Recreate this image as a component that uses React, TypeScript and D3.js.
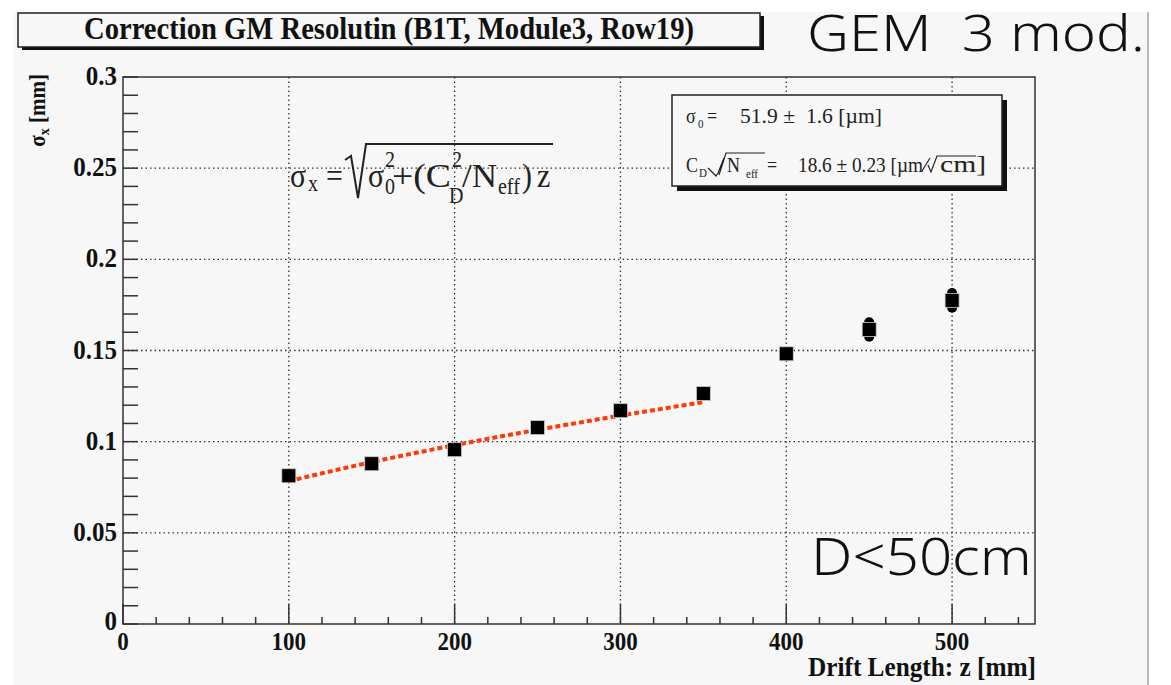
import React from "react";
import * as d3 from "d3";

// measured points: drift length z [mm] vs sigma_x [mm]
const zValues = [100, 150, 200, 250, 300, 350, 400, 450, 500];
const sigmaValues = [0.0813, 0.0879, 0.0956, 0.1077, 0.117, 0.1264, 0.1482, 0.1615, 0.1775];
const sigmaErrors = [0.001, 0.001, 0.001, 0.001, 0.001, 0.001, 0.001, 0.004, 0.004];

// fitted curve (z < 350 mm)
const fitZ = [100, 150, 200, 250, 300, 350];
const fitSigma = [0.0784, 0.0888, 0.0981, 0.1065, 0.1143, 0.1217];

const xMajorTicks = [0, 100, 200, 300, 400, 500];
const yMajorTicks = [0, 0.05, 0.1, 0.15, 0.2, 0.25, 0.3];
const yTickLabels = ["0", "0.05", "0.1", "0.15", "0.2", "0.25", "0.3"];

const W = 1171;
const H = 685;
const plot = { left: 123, right: 1035, top: 77, bottom: 624 };

const SERIF = "'Liberation Serif', 'DejaVu Serif', serif";
const SANS = "'Noto Sans', 'Open Sans', sans-serif";
const BG = "#f7f7f7";

const App = () => {
  const x = d3.scaleLinear().domain([0, 550]).range([plot.left, plot.right]);
  const y = d3.scaleLinear().domain([0, 0.3]).range([plot.bottom, plot.top]);

  const xMinor = d3.range(0, 550, 20);
  const yMinor = d3.range(0, 0.3001, 0.01);

  const fitLine = d3
    .line<number>()
    .x((_, i) => x(fitZ[i]))
    .y((d) => y(d))
    .curve(d3.curveMonotoneX);

  // the original text is a bit taller than wide
  const st = (tx: number, ty: number, s = 1.12) => `translate(${tx},${ty}) scale(1,${s})`;

  return (
    <svg
      width={W}
      height={H}
      style={{ position: "absolute", left: 0, top: 0, background: "#fff" }}
    >
      <rect x={13} y={12} width={1135} height={H - 12} fill={BG} />
      <line x1={1148} x2={1148} y1={12} y2={H} stroke="#bbb" strokeWidth={2} />

      {/* title box */}
      <rect x={22} y={16} width={742} height={34} fill="#111" />
      <rect x={18} y={13} width={742} height={34} fill={BG} stroke="#222" strokeWidth={1.5} />
      <text
        transform={st(389, 39)}
        textAnchor="middle"
        fontFamily={SERIF}
        fontWeight="bold"
        fontSize={28}
        fill="#111"
        textLength={610}
        lengthAdjust="spacingAndGlyphs"
      >
        Correction GM Resolutin (B1T, Module3, Row19)
      </text>

      {/* grid */}
      <g stroke="#333" strokeWidth={1.3} strokeDasharray="1.5 3">
        {xMajorTicks.slice(1).map((t) => (
          <line key={"gx" + t} x1={x(t)} x2={x(t)} y1={plot.top} y2={plot.bottom} />
        ))}
        {yMajorTicks.slice(1, -1).map((t) => (
          <line key={"gy" + t} x1={plot.left} x2={plot.right} y1={y(t)} y2={y(t)} />
        ))}
      </g>

      {/* frame */}
      <rect
        x={plot.left}
        y={plot.top}
        width={plot.right - plot.left}
        height={plot.bottom - plot.top}
        fill="none"
        stroke="#333"
        strokeWidth={1.5}
      />

      {/* ticks */}
      <g stroke="#333" strokeWidth={1.5}>
        {yMinor.map((t, i) => (
          <line key={"yt" + i} x1={plot.left} x2={plot.left + 15} y1={y(t)} y2={y(t)} />
        ))}
        {xMinor.map((t) => (
          <line
            key={"xt" + t}
            x1={x(t)}
            x2={x(t)}
            y1={plot.bottom}
            y2={plot.bottom - (t % 100 === 0 ? 20 : 7)}
          />
        ))}
      </g>

      {/* tick labels */}
      <g fontFamily={SERIF} fontWeight="bold" fill="#111">
        {yMajorTicks.map((t, i) => (
          <text
            key={"yl" + i}
            transform={st(117, y(t) + (i === 0 ? 6 : 8))}
            textAnchor="end"
            fontSize={25}
          >
            {yTickLabels[i]}
          </text>
        ))}
        {xMajorTicks.map((t) => (
          <text key={"xl" + t} transform={st(x(t), 650)} textAnchor="middle" fontSize={23}>
            {t}
          </text>
        ))}
      </g>

      {/* axis titles */}
      <text
        transform={st(1036, 676)}
        textAnchor="end"
        fontFamily={SERIF}
        fontWeight="bold"
        fontSize={24}
        fill="#111"
        textLength={228}
        lengthAdjust="spacingAndGlyphs"
      >
        Drift Length: z [mm]
      </text>
      <text
        transform={`translate(45,74) rotate(-90) scale(1,1.1)`}
        textAnchor="end"
        fontFamily={SERIF}
        fontWeight="bold"
        fontSize={21}
        fill="#111"
      >
        σ<tspan fontSize={14} dy={4}>x</tspan>
        <tspan dy={-4}>{"\u00a0[mm]"}</tspan>
      </text>

      {/* fit */}
      <path
        d={fitLine(fitSigma) || ""}
        fill="none"
        stroke="#ff3a0a"
        strokeWidth={4}
        strokeDasharray="5 3"
      />

      {/* data points */}
      <g>
        {zValues.map((z, i) => (
          <g key={"p" + z}>
            <line
              x1={x(z)}
              x2={x(z)}
              y1={y(sigmaValues[i] - sigmaErrors[i])}
              y2={y(sigmaValues[i] + sigmaErrors[i])}
              stroke="#000"
              strokeWidth={10}
              strokeLinecap="round"
            />
            <rect
              x={x(z) - 7}
              y={y(sigmaValues[i]) - 7}
              width={14}
              height={14}
              fill="#000"
              stroke="#ccc"
              strokeWidth={0.8}
            />
          </g>
        ))}
      </g>

      {/* formula */}
      <g fontFamily={SERIF} fill="#222" fontSize={30}>
        <text transform={st(290, 187, 1.15)}>σ</text>
        <text transform={st(308, 191, 1.15)} fontSize={20}>x</text>
        <text transform={st(326, 187, 1.15)}>=</text>
        <path d="M345,160 L351,156 L358,198 L366,144 L553,144" fill="none" stroke="#222" strokeWidth={2} />
        <text transform={st(368, 187, 1.15)}>σ</text>
        <text transform={st(385, 194, 1.15)} fontSize={20}>0</text>
        <text transform={st(385, 167, 1.15)} fontSize={20}>2</text>
        <text transform={st(392, 187, 1.15)} textLength={59} lengthAdjust="spacingAndGlyphs">+(C</text>
        <text transform={st(452, 167, 1.15)} fontSize={20}>2</text>
        <text transform={st(449, 203, 1.15)} fontSize={20}>D</text>
        <text transform={st(462, 187, 1.15)} textLength={35} lengthAdjust="spacingAndGlyphs">/N</text>
        <text transform={st(498, 194, 1.15)} fontSize={20}>eff</text>
        <text transform={st(522, 187, 1.15)}>)</text>
        <text transform={st(537, 187, 1.15)}>z</text>
      </g>

      {/* stats box */}
      <rect x={677} y={100} width={330} height={91} fill="#111" />
      <rect x={672} y={95} width={330} height={91} fill={BG} stroke="#222" strokeWidth={1.5} />
      <g fontFamily={SERIF} fill="#222" fontSize={18}>
        <text transform={st(686, 123, 1.15)}>σ</text>
        <text transform={st(698, 128, 1.15)} fontSize={11}>0</text>
        <text transform={st(707, 123, 1.15)}>=</text>
        <text transform={st(740, 123, 1.15)} textLength={142} lengthAdjust="spacingAndGlyphs">
          {"51.9\u00a0±\u00a0\u00a01.6\u00a0[µm]"}
        </text>

        <text transform={st(686, 172, 1.15)}>C</text>
        <text transform={st(699, 177, 1.15)} fontSize={11}>D</text>
        <text transform={st(727, 172, 1.15)}>N</text>
        <text transform={st(746, 178, 1.15)} fontSize={11}>eff</text>
        <text transform={st(767, 172, 1.15)}>=</text>
        <text transform={st(798, 172, 1.15)} textLength={125} lengthAdjust="spacingAndGlyphs">
          {"18.6\u00a0±\u00a00.23\u00a0[µm"}
        </text>
        <text transform={st(940, 172, 1.15)} fontSize={20} textLength={46} lengthAdjust="spacingAndGlyphs">
          cm]
        </text>
      </g>
      <path
        d="M708,168 L716,176 L718,173 L724,158 M719,175 L726,153 L765,153"
        fill="none"
        stroke="#222"
        strokeWidth={1.2}
      />
      <path
        d="M922,171 L930,158 M928,165 L931,172 L937,156 L976,156"
        fill="none"
        stroke="#222"
        strokeWidth={1.2}
      />

      {/* annotations */}
      <text
        transform="translate(807,51) scale(1.16,1)"
        fontFamily={SANS}
        fontWeight={300}
        fontSize={50}
        fill="#111"
      >
        {"GEM\u00a0\u00a03 mod."}
      </text>
      <text
        transform="translate(811,575) scale(1.12,1)"
        fontFamily={SANS}
        fontWeight={300}
        fontSize={52}
        fill="#111"
      >
        {"D<50cm"}
      </text>
    </svg>
  );
};

export default App;
